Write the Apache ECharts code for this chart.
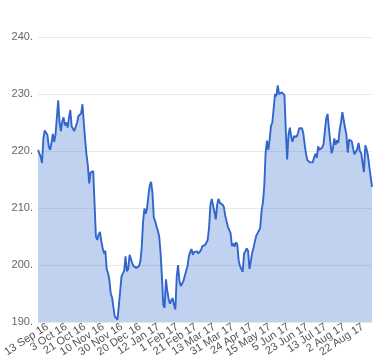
<!DOCTYPE html>
<html><head><meta charset="utf-8">
<script src="https://cdn.jsdelivr.net/npm/echarts@6/dist/echarts.min.js"></script>
<style>html,body{margin:0;padding:0;background:#fff}#c{width:380px;height:360px}</style>
</head><body><div id="c"></div>
<script>
// Trading days (London) from 13 Sep 2016
const startDate = '2016-09-13';
const holidays = ['2016-12-26','2016-12-27','2017-01-02','2017-04-14','2017-04-17','2017-05-01','2017-05-29','2017-08-28'];
const tickLabels = ['13 Sep 16','3 Oct 16','21 Oct 16','10 Nov 16','30 Nov 16','20 Dec 16','12 Jan 17','1 Feb 17','21 Feb 17','13 Mar 17','31 Mar 17','24 Apr 17','15 May 17','5 Jun 17','23 Jun 17','13 Jul 17','2 Aug 17','22 Aug 17'];
const yTicks = [190, 200, 210, 220, 230, 240];
const prices = [
220.2,219.6,219.0,217.9,222.2,223.6,223.9,222.8,220.8,220.2,
221.4,223.0,221.6,222.9,225.8,228.9,225.0,223.5,225.2,225.9,
224.5,225.0,224.1,225.8,227.2,224.3,224.5,223.5,223.4,225.0,
226.1,226.3,226.6,228.2,225.0,222.0,219.4,217.5,214.3,216.2,
216.5,216.5,216.3,205.0,204.4,205.3,205.8,204.2,203.0,202.0,
202.5,199.3,198.6,197.4,195.0,194.3,192.6,191.0,191.2,190.4,
192.8,195.4,198.0,198.2,199.0,201.5,198.9,199.3,201.8,201.6,
200.3,199.8,200.0,199.5,199.8,199.8,200.6,203.0,207.5,209.9,
209.0,210.0,212.2,214.0,214.6,212.6,208.3,207.7,206.8,206.0,
205.0,202.2,198.0,193.0,192.5,197.5,195.5,194.0,193.2,193.8,
194.2,193.0,192.2,197.9,200.0,197.2,196.3,196.0,197.2,198.1,
197.9,199.8,201.5,202.3,202.8,201.8,202.3,202.4,202.4,202.0,
201.8,202.6,203.3,203.3,203.5,203.9,204.4,206.5,210.5,211.6,
210.5,209.3,208.0,210.5,211.6,210.9,210.6,210.6,210.2,208.7,
207.7,206.7,206.4,205.6,203.3,203.8,203.2,204.0,203.6,200.8,
199.8,199.5,198.8,202.0,202.4,202.9,202.5,199.3,200.6,202.1,
203.0,204.1,205.1,205.2,206.0,206.5,209.5,211.0,213.8,219.7,
221.8,220.2,222.0,224.4,225.0,227.5,230.0,229.6,231.5,230.0,
230.0,230.3,230.5,229.8,223.5,218.5,222.8,224.1,222.5,221.6,
222.6,222.8,222.5,223.1,224.0,224.2,224.0,223.1,221.2,219.5,
218.4,218.4,218.0,217.7,218.0,218.9,219.5,218.8,220.8,220.2,
220.0,220.6,221.2,223.5,225.7,226.5,224.0,221.7,219.6,220.4,
222.2,221.1,221.9,221.4,223.7,225.1,226.8,225.4,225.5,222.8,
219.7,222.0,222.0,221.7,220.4,219.4,219.3,220.3,221.4,220.0,
219.6,219.3,216.3,221.0,220.3,219.2,217.3,215.5,213.7
];

const MONTHS = ['Jan','Feb','Mar','Apr','May','Jun','Jul','Aug','Sep','Oct','Nov','Dec'];
function tradingDays(n) {
  const out = [];
  const d = new Date(startDate + 'T00:00:00Z');
  while (out.length < n) {
    const iso = d.toISOString().slice(0, 10);
    const wd = d.getUTCDay();
    if (wd !== 0 && wd !== 6 && holidays.indexOf(iso) < 0) {
      out.push(d.getUTCDate() + ' ' + MONTHS[d.getUTCMonth()] + ' ' + String(d.getUTCFullYear()).slice(2));
    }
    d.setUTCDate(d.getUTCDate() + 1);
  }
  return out;
}
const dates = tradingDays(prices.length);
const tickSet = new Set(tickLabels);
const FONT = '"Liberation Sans", Arial, sans-serif';

const chart = echarts.init(document.getElementById('c'), null, {renderer: 'canvas'});
chart.setOption({
  animation: false,
  textStyle: {fontFamily: FONT},
  grid: [
    {left: 38, right: 8, top: 37, bottom: 38, containLabel: false},
    {left: 42, right: 4, top: 37, bottom: 38, containLabel: false}
  ],
  xAxis: [{
    type: 'category',
    gridIndex: 0,
    data: dates,
    boundaryGap: false,
    axisLine: {show: false},
    axisTick: {show: false},
    splitLine: {show: false},
    axisLabel: {show: false}
  }, {
    type: 'category',
    gridIndex: 1,
    data: dates,
    boundaryGap: false,
    axisLine: {show: false},
    axisTick: {show: false},
    splitLine: {show: false},
    axisLabel: {
      interval: 0,
      showMinLabel: true,
      showMaxLabel: false,
      hideOverlap: false,
      formatter: function (v) { return tickSet.has(v) ? v : ''; },
      rotate: 33,
      margin: 6,
      fontSize: 11,
      color: '#555',
      fontFamily: FONT
    }
  }],
  yAxis: [{
    type: 'value',
    gridIndex: 0,
    min: yTicks[0],
    max: yTicks[yTicks.length - 1],
    interval: 10,
    axisLine: {show: false},
    axisTick: {show: false},
    splitLine: {lineStyle: {color: '#e8e8e8', width: 1}},
    axisLabel: {
      formatter: function (v) { return v + '.'; },
      fontSize: 11,
      color: '#666',
      margin: 5,
      fontFamily: FONT
    }
  }, {
    type: 'value',
    gridIndex: 1,
    show: false,
    min: 0, max: 1
  }],
  series: [{
    type: 'line',
    xAxisIndex: 0,
    yAxisIndex: 0,
    data: prices,
    showSymbol: false,
    smooth: false,
    lineStyle: {color: '#3366cc', width: 1.9},
    itemStyle: {color: '#3366cc'},
    areaStyle: {color: '#3366cc', opacity: 0.3}
  }]
});
</script>
</body></html>
